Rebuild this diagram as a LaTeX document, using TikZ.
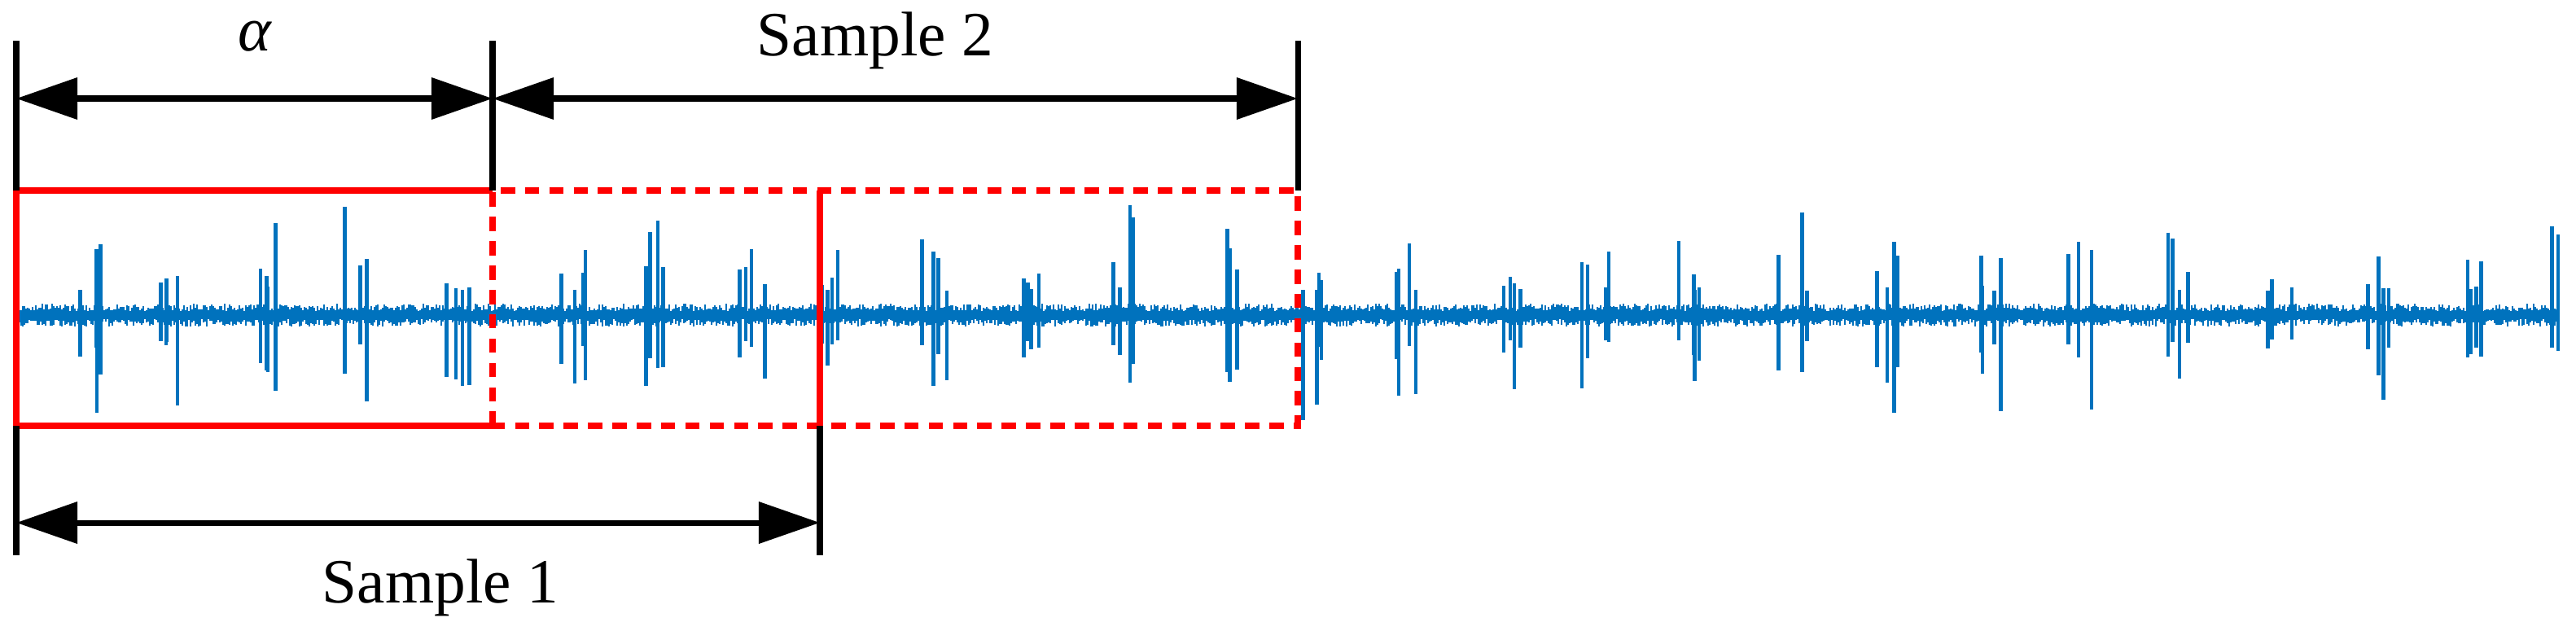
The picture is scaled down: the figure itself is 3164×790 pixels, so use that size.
\documentclass[tikz,border=0pt]{standalone}
\usepackage{fontspec}
\setmainfont{Liberation Serif}
\usetikzlibrary{arrows.meta}
\definecolor{sig}{RGB}{0,114,189}
\begin{document}
\begin{tikzpicture}[x=0.01cm,y=-0.01cm,
  dim/.style={line width=2pt,{Triangle[length=0.75cm,width=0.5cm]}-{Triangle[length=0.75cm,width=0.5cm]}},
  ext/.style={line width=2pt},
  lbl/.style={font=\fontsize{22}{26}\selectfont,inner sep=0pt},
  box/.style={red,line width=2.4pt},
  dbox/.style={red,line width=2.4pt,dash pattern=on 5pt off 3.5pt}]
\useasboundingbox (0,0) rectangle (3164,790);
\pgfmathsetseed{7}
% noise
\draw[sig,line width=0.8pt] \foreach \x in {22,24,...,3142}{
  [/utils/exec={\pgfmathsetmacro\ra{5+rnd*9}\pgfmathsetmacro\rb{5+rnd*9}}]
  (\x,387-\ra) -- (\x,387+\rb)};
% spikes
\foreach \c in {115,210,320,435,560,700,810,920,1030,1150,1260,1380,1500,1610,1730,1850,1960,2080,2200,2320,2440,2560,2680,2800,2920,3030,3142}{
  \foreach \k in {1,...,4}{
    \pgfmathsetmacro\dx{(rnd-0.5)*40}
    \pgfmathsetmacro\hu{30+rnd*rnd*125}
    \pgfmathsetmacro\hd{30+rnd*rnd*125}
    \draw[sig,line width=1.3pt] ({min(\c+\dx,3142)},387-\hu) -- ({min(\c+\dx,3142)},387+\hd);
  }
}
% coordinates
\coordinate (L) at (20,234);
\coordinate (A) at (605,234);
\coordinate (S1) at (1007,234);
\coordinate (S2) at (1594,234);
\coordinate (LB) at (20,523);
\coordinate (AB) at (605,523);
\coordinate (S1B) at (1007,523);
\coordinate (S2B) at (1594,523);
% boxes
\draw[box] (A) -- (L) -- (LB) -- (AB);
\draw[box] (S1) -- (S1B);
\draw[dbox] (AB) rectangle (S2);
% extension lines
\coordinate (Lt) at (20,50); \coordinate (At) at (605,50); \coordinate (S2t) at (1594,50);
\coordinate (Lb) at (20,682); \coordinate (S1b) at (1007,682);
\draw[ext] (Lt) -- (L); \draw[ext] (At) -- (A); \draw[ext] (S2t) -- (S2);
\draw[ext] (LB) -- (Lb); \draw[ext] (S1B) -- (S1b);
% dimension arrows
\coordinate (a1) at (20,121); \coordinate (a2) at (605,121); \coordinate (a3) at (1594,121);
\coordinate (b1) at (20,642); \coordinate (b2) at (1007,642);
\draw[dim] (a1) -- (a2);
\draw[dim] (a2) -- (a3);
\draw[dim] (b1) -- (b2);
\node[lbl] (alpha) at (313,45) {\textit{α}};
\node[lbl] (t2) at (1075,50) {Sample 2};
\node[lbl] (t1) at (541,722) {Sample 1};
\end{tikzpicture}
\end{document}
